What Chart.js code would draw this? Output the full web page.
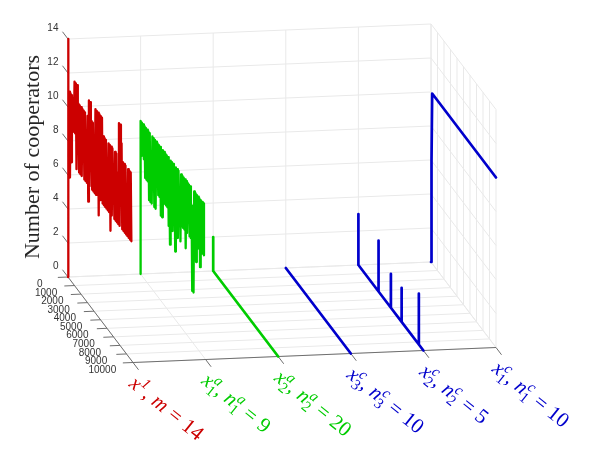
<!DOCTYPE html>
<html>
<head>
<meta charset="utf-8">
<style>
  html, body { margin: 0; padding: 0; background: #fff; }
  canvas { display: block; }
</style>
<script src="https://cdn.jsdelivr.net/npm/chart.js@4/dist/chart.umd.min.js"></script>
</head>
<body>
<canvas id="chart" width="598" height="457"></canvas>
<script>
// axis ticks
const timeTicks = [0, 1000, 2000, 3000, 4000, 5000, 6000, 7000, 8000, 9000, 10000];
const countTicks = [0, 2, 4, 6, 8, 10, 12, 14];
const categoryLabels = [
  "x^1, m = 14",
  "x_1^a, n_1^a = 9",
  "x_2^a, n_2^a = 20",
  "x_3^c, n_3^c = 10",
  "x_2^c, n_2^c = 5",
  "x_1^c, n_1^c = 10",
];
const categoryColors = ["#cc0000", "#00cc00", "#00cc00", "#0000cc", "#0000cc", "#0000cc"];

const redValues = [0,
  14,7, 11,6, 11,7, 11,10, 10,9, 12,9, 12,7, 12,11, 11,7, 11,7,
  11,7, 11,8, 11,7, 11,7, 10,7, 11,6, 12,7, 12,8, 11,7, 11,7,
  10,7, 12,7, 12,8, 12,6, 12,7, 12,11, 12,7, 11,7, 11,7, 11,7,
  10,7, 11,7, 11,6, 11,7, 11,8, 10,7, 11,7, 11,7, 10,7, 13,7,
  13,12, 12,7, 11,7, 11,7, 11,7, 10,7, 11,7, 11,7, 11,7];
const greenValues = [0,
  9,7, 9,8, 9,7, 9,6, 9,6, 9,6, 9,5, 9,5, 7,5, 9,6,
  9,5, 9,5, 9,8, 9,6, 9,6, 9,5, 8,5, 9,6, 9,6, 9,6,
  9,6, 9,5, 8,4, 9,5, 9,5, 9,6, 8,4, 9,6, 9,5, 9,6,
  8,5, 9,6, 9,6, 9,6, 9,5, 9,6, 9,8, 9,6, 9,6, 8,3,
  8,3, 9,5, 9,5, 9,6, 9,6, 9,5, 9,7, 9,6, 9,6];
const sampleEnd = 9750;

const x2aTimes = [0, 0, 0, 10000];
const x2aValues = [2, 0, 0, 0];
const x3cTimes = [0, 10000];
const x3cValues = [0, 0];
const x2cTimes = [0, 0, 0, 3100, 3100, 3100, 5000, 5000, 5000, 6650, 6650, 6650, 9300, 9300, 9300, 10000];
const x2cValues = [3, 0, 0, 0, 3, 0, 0, 2, 0, 0, 2, 0, 0, 3, 0, 0];
const x1cTimes = [0, 80, 180, 10000];
const x1cValues = [0, 6, 10, 10];

// view of the 3d box: time runs towards the viewer, categories to the right
const view = {
  origin: [68, 277],
  time: [65, 85.5],
  cat: [72.6, -3],
  count: [0, -17],
};

function project(t, c, z) {
  return {
    x: view.origin[0] + (t / 10000) * view.time[0] + c * view.cat[0] + z * view.count[0],
    y: view.origin[1] + (t / 10000) * view.time[1] + c * view.cat[1] + z * view.count[1],
  };
}

function sampleTimes(values) {
  return values.map(function (v, i) {
    return i === 0 ? 0 : ((i - 1) / (values.length - 2)) * sampleEnd;
  });
}

function seriesDataset(times, values, c, color, width) {
  return {
    data: values.map(function (z, i) { return project(times[i], c, z); }),
    borderColor: color,
    borderWidth: width,
    borderCapStyle: "round",
    borderJoinStyle: "round",
    order: 0,
  };
}

function segment(a, b, color, width, order) {
  return {
    data: [project(a[0], a[1], a[2]), project(b[0], b[1], b[2])],
    borderColor: color,
    borderWidth: width,
    order: order,
  };
}

const datasets = [
  seriesDataset(sampleTimes(redValues), redValues, 0, "#cc0000", 2.3),
  seriesDataset(sampleTimes(greenValues), greenValues, 1, "#00cc00", 2.3),
  seriesDataset(x2aTimes, x2aValues, 2, "#00cc00", 2.7),
  seriesDataset(x3cTimes, x3cValues, 3, "#0000cc", 2.7),
  seriesDataset(x2cTimes, x2cValues, 4, "#0000cc", 2.7),
  seriesDataset(x1cTimes, x1cValues, 5, "#0000cc", 2.7),
];

const gridColor = "#e9e9e9";
const axisColor = "#6e6e6e";
const lastCat = categoryLabels.length - 1;

// grid: floor, back wall, right wall
timeTicks.forEach(function (t) {
  datasets.push(segment([t, 0, 0], [t, lastCat, 0], gridColor, 1, 2));
  datasets.push(segment([t, lastCat, 0], [t, lastCat, 14], gridColor, 1, 2));
});
countTicks.forEach(function (z) {
  datasets.push(segment([0, 0, z], [0, lastCat, z], gridColor, 1, 2));
  datasets.push(segment([0, lastCat, z], [10000, lastCat, z], gridColor, 1, 2));
});
categoryLabels.forEach(function (l, c) {
  datasets.push(segment([0, c, 0], [10000, c, 0], gridColor, 1, 2));
  datasets.push(segment([0, c, 0], [0, c, 14], gridColor, 1, 2));
});

// axis lines and tick marks
datasets.push(segment([0, 0, 0], [10000, 0, 0], axisColor, 1, 1));
datasets.push(segment([10000, 0, 0], [10000, lastCat, 0], axisColor, 1, 1));
timeTicks.forEach(function (t) {
  datasets.push(segment([t, 0, 0], [t, -0.14, 0], axisColor, 1, 1));
});
countTicks.forEach(function (z) {
  datasets.push(segment([0, 0, z], [-850, 0, z], axisColor, 1, 1));
});
categoryLabels.forEach(function (l, c) {
  datasets.push(segment([10000, c, 0], [10850, c, 0], axisColor, 1, 1));
});

function drawMathLabel(ctx, text, px, py, color) {
  const size = 21;
  const small = 15;
  const italic = "italic " + size + "px 'Liberation Serif'";
  const roman = size + "px 'Liberation Serif'";
  ctx.save();
  ctx.translate(px, py);
  ctx.rotate((39 * Math.PI) / 180);
  ctx.fillStyle = color;
  ctx.textAlign = "left";
  ctx.textBaseline = "alphabetic";
  let cx = 0;
  let i = 0;
  while (i < text.length) {
    const ch = text[i];
    if (ch === "_" && text[i + 2] === "^") {
      // sub and sup stacked on top of each other
      ctx.font = small + "px 'Liberation Serif'";
      ctx.fillText(text[i + 1], cx, 5);
      ctx.font = "italic " + small + "px 'Liberation Serif'";
      ctx.fillText(text[i + 3], cx, -8);
      cx += 8;
      i += 4;
    } else if (ch === "^") {
      ctx.font = "italic " + small + "px 'Liberation Serif'";
      ctx.fillText(text[i + 1], cx, -8);
      cx += 8;
      i += 2;
    } else {
      ctx.font = /[a-z]/.test(ch) ? italic : roman;
      if (ch !== " ") ctx.fillText(ch, cx, 0);
      cx += ch === " " ? 6 : ctx.measureText(ch).width;
      i += 1;
    }
  }
  ctx.restore();
}

const textPlugin = {
  id: "boxText",
  afterDraw: function (chart) {
    const ctx = chart.ctx;
    const sx = chart.scales.x;
    const sy = chart.scales.y;
    ctx.save();
    ctx.fillStyle = "#333333";
    ctx.font = "10px 'Liberation Sans'";

    // count axis labels
    ctx.textAlign = "right";
    ctx.textBaseline = "middle";
    countTicks.forEach(function (z) {
      const p = project(-850, 0, z);
      ctx.fillText(String(z), sx.getPixelForValue(p.x) - 4, sy.getPixelForValue(p.y) - 3);
    });

    // time axis labels
    ctx.textAlign = "center";
    timeTicks.forEach(function (t) {
      const p = project(t, -0.14, 0);
      ctx.fillText(String(t), sx.getPixelForValue(p.x) - 18 - (t / 10000) * 2.5, sy.getPixelForValue(p.y) + 7);
    });

    // y title
    ctx.save();
    ctx.translate(33, 157);
    ctx.rotate(-Math.PI / 2);
    ctx.font = "22px 'Liberation Serif'";
    ctx.fillStyle = "#262626";
    ctx.textAlign = "center";
    ctx.fillText("Number of cooperators", 0, 0);
    ctx.restore();

    // category labels
    categoryLabels.forEach(function (label, c) {
      const p = project(10000, c, 0);
      drawMathLabel(ctx, label, sx.getPixelForValue(p.x) - 5, sy.getPixelForValue(p.y) + 23, categoryColors[c]);
    });
    ctx.restore();
  },
};

new Chart(document.getElementById("chart"), {
  type: "scatter",
  data: { datasets: datasets },
  plugins: [textPlugin],
  options: {
    responsive: false,
    animation: false,
    showLine: true,
    layout: { padding: 0 },
    elements: { point: { radius: 0 }, line: { tension: 0 } },
    plugins: { legend: { display: false }, tooltip: { enabled: false } },
    scales: {
      x: { type: "linear", min: 0, max: 598, display: false },
      y: { type: "linear", min: 0, max: 457, reverse: true, display: false },
    },
  },
});
</script>
</body>
</html>
